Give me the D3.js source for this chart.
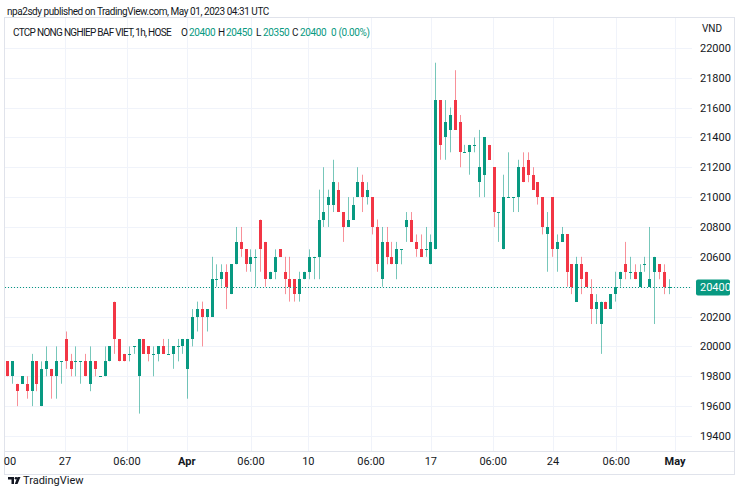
<!DOCTYPE html>
<html>
<head>
<meta charset="utf-8">
<script src="https://cdn.jsdelivr.net/npm/d3@7"></script>
<style>
  html, body { margin: 0; padding: 0; background: #fff; }
  svg { display: block; font-family: Roboto, "Liberation Sans", sans-serif; }
</style>
</head>
<body>
<div id="chart"></div>
<script>
// hourly candles, BAF on HOSE, late March -> end of April 2023
const opens = [
    19900, 19800, 19750, 19750, 19750, 19700, 19900, 19600, 19850, 19850,
    19800, 19900, 20050, 19900, 19900, 19900, 19900, 19750, 19900, 19800,
    19800, 19900, 20300, 20050, 19950, 19950, 20000, 19800, 20050, 20000,
    19950, 19950, 20000, 19950, 19950, 20000, 20000, 19850, 20050, 20200,
    20250, 20200, 20200, 20450, 20450, 20500, 20350, 20550, 20700, 20650,
    20550, 20600, 20850, 20700, 20450, 20500, 20650, 20500, 20450, 20450,
    20350, 20450, 20500, 20600, 20600, 20850, 20950, 20950, 21050, 20900,
    20800, 20850, 21000, 21100, 21000, 21000, 20800, 20450, 20700, 20600,
    20550, 20650, 20800, 20850, 20700, 20650, 20650, 20550, 20650, 21650,
    21400, 21450, 21650, 21500, 21300, 21300, 21350, 21100, 21150, 21350,
    21200, 20900, 20650, 21000, 21000, 21000, 21200, 21250, 21150, 21100,
    21000, 20750, 21000, 20650, 20700, 20750, 20550, 20300, 20550, 20500,
    20350, 20250, 20150, 20300, 20250, 20350, 20450, 20550, 20500, 20500,
    20400, 20550, 20400, 20500, 20550, 20500, 20400
];
const highs = [
    19900, 19900, 19750, 19800, 19800, 19950, 19900, 19900, 20000, 19850,
    20000, 19900, 20100, 19950, 20000, 19900, 19950, 20000, 19900, 19800,
    20000, 20000, 20300, 20050, 19950, 20000, 20000, 20050, 20050, 20000,
    20000, 20000, 20050, 20050, 20000, 20050, 20050, 20050, 20250, 20300,
    20300, 20250, 20600, 20550, 20550, 20550, 20550, 20800, 20800, 20650,
    20650, 20650, 20850, 20700, 20500, 20650, 20650, 20600, 20600, 20450,
    20500, 20500, 20650, 20600, 21050, 21200, 21050, 21250, 21100, 20900,
    21000, 21000, 21200, 21150, 21100, 21000, 20850, 20800, 20800, 20700,
    20700, 20650, 20900, 20900, 20750, 20750, 20800, 20750, 21900, 21650,
    21650, 21600, 21850, 21550, 21350, 21350, 21400, 21450, 21400, 21350,
    21200, 20900, 21150, 21300, 21000, 21250, 21300, 21300, 21200, 21100,
    21000, 20900, 21000, 20750, 20800, 20750, 20550, 20600, 20600, 20500,
    20450, 20350, 20300, 20300, 20350, 20500, 20500, 20700, 20600, 20550,
    20550, 20600, 20800, 20600, 20550, 20550, 20450
];
const lows = [
    19800, 19750, 19600, 19750, 19650, 19600, 19700, 19600, 19800, 19650,
    19650, 19750, 19850, 19800, 19800, 19750, 19800, 19700, 19800, 19800,
    19800, 19900, 19950, 19900, 19900, 19900, 19950, 19550, 19950, 19900,
    19800, 19900, 19950, 19950, 19850, 19900, 19950, 19650, 20000, 20100,
    20000, 20100, 20200, 20400, 20400, 20250, 20350, 20550, 20600, 20500,
    20500, 20400, 20500, 20400, 20450, 20450, 20600, 20350, 20300, 20300,
    20300, 20450, 20450, 20450, 20450, 20800, 20800, 20900, 20900, 20700,
    20800, 20850, 21000, 20900, 20950, 20750, 20500, 20400, 20550, 20550,
    20450, 20550, 20700, 20700, 20600, 20600, 20600, 20550, 20650, 21250,
    21250, 21300, 21450, 21200, 21300, 21150, 21300, 21000, 21000, 21250,
    20800, 20700, 20650, 21000, 20900, 20900, 21100, 21100, 21050, 20950,
    20750, 20500, 20600, 20500, 20700, 20400, 20350, 20300, 20350, 20400,
    20150, 20150, 19950, 20250, 20250, 20300, 20400, 20450, 20450, 20450,
    20400, 20500, 20400, 20150, 20450, 20350, 20350
];
const closes = [
    19800, 19900, 19700, 19800, 19700, 19900, 19750, 19850, 19900, 19800,
    19900, 19900, 19900, 19850, 19900, 19900, 19800, 19900, 19850, 19800,
    19900, 20000, 20050, 19900, 19900, 19950, 20000, 20050, 19950, 19950,
    19950, 20000, 19950, 19950, 20000, 20000, 20050, 20050, 20200, 20250,
    20200, 20250, 20450, 20450, 20500, 20400, 20550, 20700, 20650, 20550,
    20600, 20600, 20650, 20450, 20500, 20600, 20600, 20450, 20400, 20350,
    20450, 20500, 20600, 20600, 20850, 20900, 21000, 21100, 20900, 20800,
    20850, 20950, 21100, 21000, 21050, 20800, 20550, 20700, 20600, 20550,
    20650, 20650, 20850, 20700, 20650, 20600, 20650, 20700, 21650, 21350,
    21500, 21550, 21450, 21300, 21300, 21350, 21350, 21200, 21400, 21250,
    20900, 20900, 21000, 21000, 21000, 21200, 21100, 21150, 21050, 21000,
    20800, 20800, 20650, 20700, 20750, 20500, 20400, 20550, 20450, 20400,
    20250, 20300, 20300, 20250, 20350, 20400, 20500, 20500, 20500, 20450,
    20500, 20550, 20450, 20600, 20500, 20400, 20400
];

// time axis: labels and the bar index they sit on
const tickLabels = ['00', '27', '06:00', 'Apr', '06:00', '10', '06:00', '17', '06:00', '24', '06:00', 'May'];
const tickIndex = [0.55, 11.87, 24.6, 36.9, 50.1, 61.9, 74.8, 87.1, 99.9, 112.2, 125.2, 137.3];
const boldLabels = ['Apr', 'May'];

const priceTicks = d3.range(19400, 22001, 200);
const lastPrice = 20400;

const W = 740, H = 493;
const green = '#089981', red = '#f23645';
const textColor = '#131722', gridColor = '#f0f3fa', lineColor = '#e0e3eb';

const pane = { left: 5, right: 692, top: 17, bottom: 451 };

const svg = d3.select('#chart').append('svg')
    .attr('width', W)
    .attr('height', H);

const xScale = d3.scaleLinear().domain([0, opens.length - 1]).range([7.3, 668.7]);
const yScale = d3.scaleLinear().domain([19400, 22000]).range([436, 47.8]);

// grid
const grid = svg.append('g');
grid.selectAll('.hgrid')
    .data(priceTicks)
    .enter().append('line')
    .attr('x1', pane.left).attr('x2', pane.right)
    .attr('y1', d => Math.round(yScale(d)) + 0.5)
    .attr('y2', d => Math.round(yScale(d)) + 0.5)
    .attr('stroke', gridColor);
grid.selectAll('.vgrid')
    .data(tickIndex.slice(1))
    .enter().append('line')
    .attr('x1', d => Math.round(xScale(d)) + 0.5)
    .attr('x2', d => Math.round(xScale(d)) + 0.5)
    .attr('y1', pane.top).attr('y2', pane.bottom)
    .attr('stroke', gridColor);

// frame
svg.append('rect')
    .attr('x', 4.5).attr('y', 17.5)
    .attr('width', 730).attr('height', 457)
    .attr('fill', 'none')
    .attr('stroke', lineColor);
svg.append('line')
    .attr('x1', 5).attr('x2', 735)
    .attr('y1', pane.bottom + 0.5).attr('y2', pane.bottom + 0.5)
    .attr('stroke', lineColor);

// candles
const bars = d3.range(opens.length).map(i => ({
    i: i, o: opens[i], h: highs[i], l: lows[i], c: closes[i]
}));
const candle = svg.append('g').selectAll('g')
    .data(bars)
    .enter().append('g');

candle.append('line')
    .attr('x1', d => Math.round(xScale(d.i)) + 0.5)
    .attr('x2', d => Math.round(xScale(d.i)) + 0.5)
    .attr('y1', d => yScale(d.h))
    .attr('y2', d => yScale(d.l))
    .attr('stroke', d => d.c >= d.o ? green : red)
    .attr('stroke-opacity', 0.55);

candle.append('rect')
    .attr('x', d => Math.round(xScale(d.i)) - 1)
    .attr('width', 3)
    .attr('y', d => Math.round(yScale(Math.max(d.o, d.c))))
    .attr('height', d => Math.max(1, Math.round(yScale(Math.min(d.o, d.c))) - Math.round(yScale(Math.max(d.o, d.c)))))
    .attr('fill', d => d.c >= d.o ? green : red);

// last price line
svg.append('line')
    .attr('x1', pane.left).attr('x2', pane.right)
    .attr('y1', Math.round(yScale(lastPrice)) + 0.5)
    .attr('y2', Math.round(yScale(lastPrice)) + 0.5)
    .attr('stroke', green)
    .attr('stroke-dasharray', '1,2');

// price axis
svg.append('g').selectAll('text')
    .data(priceTicks.filter(d => d !== lastPrice))
    .enter().append('text')
    .attr('x', 700)
    .attr('y', d => yScale(d) + 4)
    .attr('font-size', 11)
    .attr('fill', textColor)
    .text(d => d);

svg.append('text')
    .attr('x', 702).attr('y', 32)
    .attr('font-size', 10)
    .attr('fill', textColor)
    .text('VND');

svg.append('rect')
    .attr('x', 696).attr('y', Math.round(yScale(lastPrice)) - 7.5)
    .attr('width', 34).attr('height', 16)
    .attr('rx', 2)
    .attr('fill', green);
svg.append('text')
    .attr('x', 700).attr('y', yScale(lastPrice) + 4.5)
    .attr('font-size', 11)
    .attr('fill', '#fff')
    .text(lastPrice);

// time axis
svg.append('g').selectAll('text')
    .data(tickLabels)
    .enter().append('text')
    .attr('x', (d, k) => xScale(tickIndex[k]))
    .attr('y', 465)
    .attr('text-anchor', 'middle')
    .attr('font-size', 11)
    .attr('font-weight', d => boldLabels.includes(d) ? 'bold' : 'normal')
    .attr('fill', textColor)
    .text(d => d);

// header and legend
svg.append('text')
    .attr('x', 7).attr('y', 15)
    .attr('font-size', 10)
    .attr('letter-spacing', -0.45)
    .attr('fill', textColor)
    .text('npa2sdy published on TradingView.com, May 01, 2023 04:31 UTC');

const legend = [
    ['CTCP NONG NGHIEP BAF VIET, 1h, HOSE', 13, textColor, -0.7],
    ['O', 181, textColor, -0.35], ['20400', 189, green, -0.35],
    ['H', 218, textColor, -0.35], ['20450', 226, green, -0.35],
    ['L', 256, textColor, -0.35], ['20350', 263, green, -0.35],
    ['C', 292, textColor, -0.35], ['20400', 300, green, -0.35],
    ['0 (0.00%)', 331, green, -0.35]
];
svg.append('g').selectAll('text')
    .data(legend)
    .enter().append('text')
    .attr('x', d => d[1])
    .attr('y', 36)
    .attr('font-size', 10)
    .attr('letter-spacing', d => d[3])
    .attr('fill', d => d[2])
    .text(d => d[0]);

// TradingView mark
const logo = svg.append('g').attr('transform', 'translate(8,476)').attr('fill', textColor);
logo.append('path').attr('d', 'M0,1 H6 V8 H3.5 V3.5 H0 Z');
logo.append('circle').attr('cx', 8).attr('cy', 2.3).attr('r', 1.3);
logo.append('path').attr('d', 'M9.5,1 H12.5 L9.5,8 H6.8 Z');
svg.append('text')
    .attr('x', 23).attr('y', 484)
    .attr('font-size', 11)
    .attr('fill', textColor)
    .text('TradingView');
</script>
</body>
</html>
